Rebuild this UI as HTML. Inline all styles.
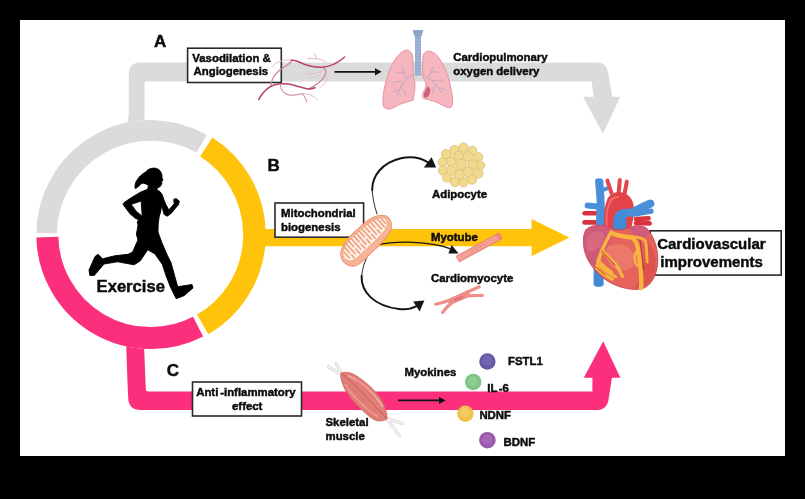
<!DOCTYPE html>
<html>
<head>
<meta charset="utf-8">
<title>Exercise and cardiovascular improvements</title>
<style>
html,body{margin:0;padding:0;background:#000;}
body{width:805px;height:499px;overflow:hidden;position:relative;}
svg{position:absolute;left:0;top:0;display:block;filter:blur(0.6px);}
text{font-family:"Liberation Sans",sans-serif;font-weight:bold;fill:#0c0c0c;stroke:#0c0c0c;stroke-width:0.45px;}
.s{font-size:11.4px;}
.m{font-size:15px;}
.l{font-size:17px;}
</style>
</head>
<body>
<svg width="805" height="499" viewBox="0 0 805 499">
<rect x="0" y="0" width="805" height="499" fill="#000"/>
<rect x="20" y="20" width="765" height="436" fill="#fff"/>

<!-- PIPES -->
<g stroke="none">
  <path d="M126.6 127 C128 122 128.8 116 128.8 110 V74.6 Q128.8 62.5 140.6 62.5 H596 C604 62.5 607.4 66.4 608.6 75 L612.3 96.8 H620.4 L603 133.4 L583 96.8 H593.8 L591.6 81.5 H146.6 Q144.6 81.5 144.6 83.5 V110 C144.6 116 144.4 122 144 127 Z" fill="#dbdbdb"/>
  <path d="M255 229 H531.6 V219 L569.4 237.5 L531.6 256.2 V246.2 H255 Z" fill="#fec30a"/>
  <path d="M126 340 L127.4 380 L128.2 398 Q128.6 410 140.4 410 H597 C604 410 608 406 608.8 398 L611.9 377.8 H620.4 L603.2 341.2 L583.8 377.8 H592.4 V391.5 H148 Q146 391.5 145.8 389.5 L143.8 340 Z" fill="#fb2f7c"/>
</g>

<!-- RING -->
<g fill="none" stroke-width="22.0">
  <circle cx="150.8" cy="234.6" r="103.5" stroke="#fff" stroke-width="22.0"/>
  <path d="M201.63 143.64 A104.2 104.2 0 0 0 46.61 233.15" stroke="#dbdbdb" stroke-width="20.6"/>
  <path d="M202.65 324.41 A103.7 103.7 0 0 0 206.21 146.95" stroke="#fec30a" stroke-width="22.6"/>
  <path d="M47.33 237.13 A103.5 103.5 0 0 0 198.11 326.65" stroke="#fb2f7c" stroke-width="22"/>
</g>

<!-- RUNNER -->
<g id="runner" fill="#000" stroke="#000" stroke-width="0.9" stroke-linejoin="round">
  <path fill-rule="evenodd" d="M153.6 168.1 C157.6 168 161 170.6 161.8 174.4 L162 177.6 L162.9 180.2 L161.7 181.6 L161.8 184 L160 186.8 L157.2 187.8 L157 190 C159.2 190.6 161.2 192.6 162.3 195 L164 200 L166 204.8 L168.9 210 L174.2 203.6 L173.7 199.4 L176.1 198.5 L179.3 201 L178.6 204.6 L177.3 206 L170.5 214 L167.1 216.2 L164.1 214.4 L161.7 205.4 L160.6 212 L159.3 216 L158.2 224 L158 232 L162 243 L167.2 255 L171 262.6 L174.7 276 L177.7 286.7 L192 284.5 L193 288 L184 295.7 L176.2 298.7 L173.2 292.7 L170.4 287 L165.8 275 L162.4 264.6 L155 254 L147.7 249.8 L140.2 261 L134.1 264.8 L117.6 261.8 L104 264 L94.3 275.4 L89.8 275.4 L89 270 L95 256.6 L98 254.3 L102.6 258.8 L114.6 255.8 L128.1 254.3 L132.6 252 L137.9 240 L136.4 234 L137.2 230 L138 225 L137.2 222 L138.8 219.6 L135.6 218.6 L130 213.8 L124 205.8 C122.8 204.6 123 203.4 124.2 202.4 L132.4 197 L140 192.4 L147.7 189.2 L148.4 185.6 C146.6 184 144.4 183 142 183.2 C140 184.6 138 187.6 135.2 188.6 C134.4 186 135.4 182 137.6 179.2 C139.6 176.4 142.4 173.6 145.6 172 C147.6 169.6 150.4 168.2 153.6 168.1 Z M131.2 204.4 L141.2 201 L142.2 216.2 L136.4 211.4 Z"/>
</g>

<!-- STRAIGHT ARROWS -->
<g id="arrows" fill="#111" stroke="#111">
  <path d="M334.5 71.8 H377" stroke-width="1.7" fill="none"/>
  <path d="M375 68.2 L381.6 71.8 L375 75.4 Z" stroke="none"/>
  <path d="M398 400.4 H441" stroke-width="1.8" fill="none"/>
  <path d="M439 396.8 L445.6 400.4 L439 404 Z" stroke="none"/>
</g>

<!-- LUNGS -->
<g id="lungs">
  <path d="M414.2 30 H421.8 L421.6 35 L421 37 V75.5 H415 V37 L414.4 35 Z" fill="#93a9cf"/>
  <path d="M412.6 30.2 H423.4 L421.6 36 H414.4 Z" fill="#8ea4cb"/>
  <g stroke="#b9c8e2" stroke-width="0.7">
    <path d="M415.2 40 H420.6 M415.2 43 H420.6 M415.2 46 H420.6 M415.2 49 H420.6 M415.2 52 H420.6 M415.2 55 H420.6 M415.2 58 H420.6 M415.2 61 H420.6 M415.2 64 H420.6 M415.2 67 H420.6 M415.2 70 H420.6 M415.2 73 H420.6"/>
  </g>
  <path d="M407 50 C410 50.5 412 53 412.6 56 C413.4 62 413 70 413.4 76 C414 80 415.4 83 415 87 C414.6 92 413.6 96 413.2 100 C409 101.5 404 102.8 400 104.2 C396.5 105.8 393.5 108.2 390 109 C387 109.4 384.4 108.2 383.2 106 C382.6 101 383 95.5 384 90 C385 84 386.8 78 389 72 C391 66.5 393.4 62 396 58 C399 54 403 50.4 407 50 Z" fill="#f5b6bf" stroke="#e895a3" stroke-width="1"/>
  <path d="M428.5 51 C432 51.5 434.5 53 436.5 55 C440 59 442.4 63 444.2 67 C447 73 449 79 450.2 85 C451.6 91 452.6 96 452.6 101 C452.6 105 451.6 107.6 449.6 108 C445 107 440.5 104 436 102 C432 100.4 427 99.4 423.4 98.4 C422.2 96.4 422.4 94.6 423 93 C424.6 90 426.2 87 426 84 C425.6 81 423.4 79 422.8 76 C422.4 70 422.4 62 423 56 C423.8 53 426 51.2 428.5 51 Z" fill="#f5b6bf" stroke="#e895a3" stroke-width="1"/>
  <path d="M427 86.5 C429.5 86.5 430.6 89 430 92 C429.4 95 427.6 97.6 425 98 C423.6 96.6 423.6 94.6 424.4 92.6 C425.4 90.4 426.6 88.6 427 86.5 Z" fill="#cf5f78"/>
  <g fill="none" stroke="#b9a3bf" stroke-width="0.8" stroke-linecap="round">
    <path d="M415.5 74 C411 76 407 78 403.5 82 C401 86 399.5 90 397.5 95"/>
    <path d="M407 78.5 C405 75 403.5 72 402.5 68 M404.5 73 C402 72 399.5 72 397 73 M403.5 82 C400 81 397 81 394 82.5 M401 87 C403.5 89 405 91.5 405.5 95 M399.5 90.5 C397 90 395 90.5 393 92"/>
    <path d="M420.5 74 C425 76 429 78 432.5 81 C436 84 439 88 441.5 93"/>
    <path d="M428 77.5 C430 74 432 71 433 67 M431 72.5 C433.5 71.5 436 71.5 438.5 72.5 M432.5 81 C436 80 439 80 442 81 M436 85 C434 87.5 433 90 433 93 M439 88.5 C441.5 88 443.5 88.5 445.5 90"/>
  </g>
</g>

<!-- CURVED ARROWS -->
<g id="carrows" fill="none" stroke="#151515" stroke-linecap="round">
  <path d="M377 214 C374 205 372.4 196 372.2 190" stroke-width="0.9"/>
  <path d="M372.2 190 C372 176 382 162.6 401 158.2 C411 156 421 157.8 428 162.4" stroke-width="2"/>
  <path d="M431.6 157.2 L436.2 167.6 L423.8 167.4 Z" fill="#151515" stroke="none"/>
  <path d="M376 245.4 C396 240.4 430 241.2 450 248.6" stroke-width="1.3"/>
  <path d="M451.6 245 L458.6 253.4 L448.4 253.6 Z" fill="#151515" stroke="none"/>
  <path d="M368.6 254 C365 260 362.4 268 361.6 276" stroke-width="0.9"/>
  <path d="M361.6 276 C361 292 374 306 399 309 C406 309.8 412 308.6 416 306.4" stroke-width="2"/>
  <path d="M413.2 301.6 L424.4 300.6 L419.6 311.4 Z" fill="#151515" stroke="none"/>
</g>

<!-- ADIPOCYTE -->
<g id="adipo" fill="#f0da8e" stroke="#dcbf78" stroke-width="0.8">
  <circle cx="460" cy="165" r="19" fill="#f6ebc4" stroke="none"/>
  <circle cx="463.5" cy="147.5" r="4.6"/><circle cx="454.5" cy="150" r="4.6"/><circle cx="472.5" cy="150.5" r="4.4"/>
  <circle cx="446" cy="154" r="4.6"/><circle cx="478.5" cy="157" r="4.4"/><circle cx="442.5" cy="162" r="4.4"/>
  <circle cx="480.5" cy="165.5" r="4.2"/><circle cx="443" cy="170.5" r="4.6"/><circle cx="478.5" cy="173.5" r="4.6"/>
  <circle cx="447" cy="177.5" r="4.6"/><circle cx="472" cy="179.5" r="4.8"/><circle cx="455" cy="182" r="4.6"/>
  <circle cx="463.5" cy="182.5" r="4.4"/>
  <circle cx="459" cy="156" r="4.8"/><circle cx="468" cy="156.5" r="4.8"/><circle cx="451" cy="161.5" r="4.8"/>
  <circle cx="473" cy="164.5" r="4.8"/><circle cx="451.5" cy="170.5" r="4.8"/><circle cx="468" cy="172" r="5"/>
  <circle cx="459.5" cy="174.5" r="4.8"/><circle cx="461" cy="164.5" r="5.2"/>
</g>

<!-- MYOTUBE -->
<g id="myotube">
  <path d="M457.4 259.2 L499.2 236.4" stroke="#e8807c" stroke-width="7.4" stroke-linecap="butt" fill="none"/>
  <path d="M457.4 259.2 L499.2 236.4" stroke="#f3a093" stroke-width="5.4" stroke-linecap="butt" fill="none"/>
  <ellipse cx="499.2" cy="236.4" rx="1.6" ry="3.7" transform="rotate(-28.6 499.2 236.4)" fill="#ee8b84" stroke="#e07471" stroke-width="0.8"/>
  <path d="M470 252 L484 244.4" stroke="#e58c84" stroke-width="0.8" fill="none"/>
</g>

<!-- CARDIOMYOCYTE -->
<g id="cardio" fill="none" stroke="#ef8e89" stroke-width="3.2" stroke-linecap="round">
  <path d="M435.6 304.2 C441 303 446 301.6 450 300 L466 292.6 C471 290.6 475 288.6 479.2 286.8"/>
  <path d="M442.6 312.4 C445 309 448 305.6 452 302.6 L468 295.8 C473 295.4 478 295.6 482.4 295.4"/>
  <path d="M450.6 301.4 L467 294.2" stroke-width="5.6"/>
  <path d="M455.6 299.8 L461.6 297.4" stroke="#e2737a" stroke-width="2.6"/>
</g>

<!-- MUSCLE -->
<g id="muscle">
  <g fill="none" stroke="#d2cbc8" stroke-width="3" stroke-linecap="round">
    <path d="M342 375 L328.4 366.6"/><path d="M342 375 L336 363"/>
    <path d="M386.6 418.4 L402.6 423.6"/><path d="M386.6 418.4 L399.4 435.6"/>
  </g>
  <g fill="none" stroke="#f6f3f1" stroke-width="1.8" stroke-linecap="round">
    <path d="M342 375 L328.4 366.6"/><path d="M342 375 L336 363"/>
    <path d="M386.6 418.4 L402.6 423.6"/><path d="M386.6 418.4 L399.4 435.6"/>
  </g>
  <path d="M341 373 C345 371.5 350 372.5 353 374 C358 376.6 362 379.6 365 382 C370 386 375 391 379 396 C382 400 384 404 385 408 C386.4 412 387.4 416 387 419 C383 421.4 378 421.4 375 420 C370 417.6 365 413 361 409 C356 404 351 399 348 394 C345 390 342.6 385 341.4 380 C340.6 377 340.4 374.6 341 373 Z" fill="#df7d76" stroke="#c96663" stroke-width="0.8"/>
  <path d="M342 374 C350 380 360 390 368 399 C375 406 382 413 386.6 418.6" fill="none" stroke="#c45c5c" stroke-width="1"/>
  <path d="M348 375.6 C356 379 364 385 371 392 C376 397 380 402 382.6 407" fill="none" stroke="#f1a79e" stroke-width="1.8"/>
  <path d="M345 384 C350 392 358 401 366 408 C370 411.6 374 414.6 378 416.6" fill="none" stroke="#f0a098" stroke-width="1.4"/>
  <path d="M346 380 C352 388 360 397 368 404" fill="none" stroke="#d67470" stroke-width="0.8"/>
  <path d="M356 380 C363 385 370 392 376 400" fill="none" stroke="#d67470" stroke-width="0.8"/>
</g>

<!-- MYOKINE DOTS -->
<g id="dots">
  <circle cx="487.4" cy="361.5" r="8.2" fill="#6659a6"/><circle cx="487" cy="360.6" r="5" fill="#7d71b8" opacity="0.55"/>
  <circle cx="473.2" cy="382" r="8.3" fill="#7fc486"/><circle cx="472.8" cy="381.2" r="5" fill="#9bd6a0" opacity="0.55"/>
  <circle cx="465.4" cy="413.8" r="8.2" fill="#efc04a"/><circle cx="465" cy="413" r="5" fill="#f6d474" opacity="0.55"/>
  <circle cx="487.4" cy="440.2" r="8.3" fill="#9a58ab"/><circle cx="487" cy="439.4" r="5" fill="#b074bf" opacity="0.55"/>
</g>


<!-- LABEL BOXES -->
<g fill="#fff" stroke="#2a2a2a" stroke-width="1.6">
  <rect x="187.6" y="48.2" width="93.7" height="34.3"/>
  <rect x="275" y="203" width="88.6" height="34.2"/>
  <rect x="192.5" y="382" width="109" height="34"/>
  <rect x="650" y="230.8" width="131.2" height="44.3"/>
</g>

<!-- VESSELS -->
<g id="vessels" fill="none" stroke-linecap="round" stroke-linejoin="round">
  <path d="M289.9 60 C286 59.4 280 60.6 275.4 63.6 C274 64.8 273.2 66 273 67.2" stroke="#e6bcc9" stroke-width="1"/>
  <path d="M306.7 73.3 C310 74.4 316 73.6 320 72 C322 71.2 323.6 70.4 324.7 69.6" stroke="#e6bcc9" stroke-width="1"/>
  <path d="M326 62.4 C324.6 60.4 320 59 315.1 58.8 C312.6 58.6 310 58.4 307.9 58.2 M313.9 53.4 C315.4 55 316 57 316.3 58.8" stroke="#e3b4c3" stroke-width="1"/>
  <path d="M301.9 93.7 C305 93.6 308 94.2 310.3 94.9 C313 96 315.6 98 317.5 99.7" stroke="#e6bcc9" stroke-width="1"/>
  <path d="M307.9 80.5 C309 78.6 310.8 77.4 312.7 76.9 C315 76.2 317.6 75.8 320 75.7" stroke="#e6bcc9" stroke-width="0.9"/>
  <path d="M327.2 76.9 C327 79 326 81 324.7 82.9 C323.4 84.8 321.8 86.4 320 87.7" stroke="#e6bcc9" stroke-width="0.9"/>
  <path d="M270.6 86.5 C271 83.6 271.8 80.6 273 78 C274.6 75.2 276.8 72.8 279 70.8 C281.6 68.6 284.6 66.6 287.5 64.8 C289.4 63.6 291 62.2 292.3 60.6" stroke="#d07f99" stroke-width="1.2"/>
  <path d="M322.3 67.2 C324.6 68.2 326 70 326 72 C325.6 74.8 324 77.2 322.3 79.3 C320.2 81.6 317.6 83.6 315.1 85.3 C313.2 86.6 311.2 87.8 309.1 88.9" stroke="#d07f99" stroke-width="1.2"/>
  <path d="M280.3 85.3 C280.6 87.6 281.4 89.6 282.7 91.3 C284.2 93 286.4 94.2 288.7 94.9 C291 95.4 293.6 95.2 295.9 94.9 C298 94.6 300 93.8 301.9 93.7 C303.6 94.8 304.8 96.6 305.5 98.5 C306 99.6 306.4 100.8 306.7 102.1" stroke="#d68ea5" stroke-width="1.1"/>
  <path d="M344.6 57 C342.6 58.8 340.4 60.4 338 61.8 C335.8 63.2 333.4 64.4 330.8 65.4 C328 66.4 325.2 67 322.3 67.2 C319 67.4 315.8 67.2 312.7 66.6 C309.8 66 307 65.2 304.3 64.2 C301.8 63.2 299.6 62 297.1 61.2 C295.2 60.6 293.2 60.2 291.1 60" stroke="#bb4467" stroke-width="1.5"/>
  <path d="M258.6 99.7 C260 97.2 261.6 94.8 263.4 92.5 C265.4 90.2 267.8 88 270.6 86.5 C273.2 85.2 276 84.4 279 84.1 C282.2 83.6 285.6 83.6 288.7 84.1 C292 84.6 295.2 85.6 298.3 86.5 C301.4 87.4 304.8 88.6 307.9 88.9 C310.4 89 312.8 88.6 315.1 87.7" stroke="#bb4467" stroke-width="1.5"/>
</g>

<!-- MITOCHONDRION -->
<g id="mito" transform="translate(366.3 240) rotate(-42) scale(1 0.95)">
  <path d="M-31.5 0.5 C-31.5 -8 -22 -14.6 -4 -14.6 L6 -14.6 C22 -14.6 31.5 -9 31.5 -1 C31.5 5 27 9.5 19 11.5 C10 13.6 2 13.4 -6 13.6 C-12 13.8 -18 14.6 -23 13.4 C-28.4 12 -31.5 7 -31.5 0.5 Z" fill="#f6b596" stroke="#ea9770" stroke-width="1"/>
  <path d="M-28.5 -1 C-28.5 -7.5 -20 -12 -4 -12 L6 -12 C20 -12 28.5 -8 28.5 -2.5 C28.5 2 24 5 18 6 C8 7.6 -8 7 -19 7.6 C-25 7.8 -28.5 4 -28.5 -1 Z" fill="#fdeee6" stroke="#ee9d7a" stroke-width="0.9"/>
  <g fill="none" stroke="#ee9a76" stroke-width="1.5" stroke-linecap="round">
    <path d="M-24.6 -6 V2 M-21 -9 V-2 M-21 1.4 V5.6 M-17.4 -10.6 V3 M-13.8 -11.2 V-3.6 M-13.8 -0.4 V5.6 M-10.2 -11.4 V3 M-6.6 -11.4 V-3.6 M-6.6 -0.4 V5.4 M-3 -11.4 V3 M0.6 -11.4 V-3.6 M0.6 -0.4 V5.2 M4.2 -11.4 V3 M7.8 -11.4 V-3.6 M7.8 -0.4 V5 M11.4 -11.2 V2.6 M15 -10.8 V-3.6 M15 -0.4 V4.4 M18.6 -10 V2 M22.2 -8.6 V2.6 M25.4 -6 V0.6"/>
  </g>
</g>

<!-- HEART -->
<g id="heart" stroke-linejoin="round" stroke-linecap="round">
  <!-- inferior vena cava -->
  <path d="M593.6 262 H603.6 V284.4 C603.6 287.6 593.6 287.6 593.6 284.4 Z" fill="#3f8bd6"/>
  <!-- pulmonary veins (red, left and right) -->
  <path d="M584.6 213.2 H596" stroke="#d9343d" stroke-width="4.6" fill="none"/>
  <path d="M584.6 222.4 H596" stroke="#d9343d" stroke-width="4.8" fill="none"/>
  <path d="M636 219 L648.6 218.4 M636 223 L649.6 223.4" stroke="#d9343d" stroke-width="4.6" fill="none"/>
  <!-- superior vena cava -->
  <path d="M587.6 205.6 L597 206.4" stroke="#4a8fd8" stroke-width="6" fill="none"/>
  <path d="M595 180.6 C595 177.4 603 177.4 603.2 180.6 L604.4 196 L605.6 226 H596 L596.6 200 Z" fill="#4a8fd8"/>
  <path d="M603 190 L606.6 188.6" stroke="#4a8fd8" stroke-width="4" fill="none"/>
  <!-- aorta -->
  <path d="M607.4 180.6 L611.4 193 M619.8 180 L618.6 193 M626.8 181.6 L624.4 195" stroke="#e2474d" stroke-width="4" fill="none"/>
  <path d="M604.6 232 C603.4 220 604 206 607.4 199 C610.6 192.6 618 190.6 624 193 C630 195.4 633.6 201 634 208 C634.4 216 632 226 630 232 Z" fill="#e3424a"/>
  <path d="M607 230 C606 220 607 208 610 202 C612 198.6 615 197 618 197" stroke="#f06a66" stroke-width="2" fill="none"/>
  <!-- pulmonary artery -->
  <path d="M618 230 C616.6 222 617.4 215.6 621.6 213.6 C625 212 628 213.6 632 212.2 C638 209.8 644 205.8 650.4 203.6" stroke="#4a8fd8" stroke-width="8" fill="none"/>
  <path d="M634 214 L651 211.2" stroke="#4a8fd8" stroke-width="5.4" fill="none"/>
  <path d="M613.6 232 C613 222 614 214 618 211 C622 209 626 212 626 216 L626.6 232 Z" fill="#3f8bd6"/>
  <!-- body -->
  <path d="M586 229.6 C590 226 596 224.6 602 225.4 C608 226 612 228.4 616 229.6 C622 231 628 227.4 634 226 C641 224.6 647 227.6 650.6 233.4 C655 240 657.6 249 657.8 258 C658 268 655.6 277 650 283.6 C646 288.4 640 289.8 634 289.4 C624 288.8 614 285.6 606 280 C600 276 596 271.6 592.6 267 C587 260 583.4 251 583.4 242 C583.4 237 584 232.6 586 229.6 Z" fill="#e5635b" stroke="#c33b4b" stroke-width="0.8"/>
  <!-- right atrium (viewer left) -->
  <path d="M586 229.6 C590 226 596 224.6 602 225.4 C607 226 610.6 228.4 612 231 C613 236 611 242 607 247 C603 252 598 258 595.6 264 C594.8 266 594.6 267.6 594.6 269 C588 262 583.4 252 583.4 242 C583.4 237 584 232.6 586 229.6 Z" fill="#cf5a79"/>
  <path d="M588 236 C592 232 598 231 603 232.6 C606 236 603 242 599 247 C596 250 592 252 588.6 251 C586 246 586 240 588 236 Z" fill="#d96a84" opacity="0.9"/>
  <!-- left atrial appendage (viewer right) -->
  <path d="M630 228 C635 224.6 642 224.4 647 228 C649.6 230.6 650 233.4 648 235.6 C644 238 638 237 634 235 C631 233.4 629.6 230.6 630 228 Z" fill="#cf5a79"/>
  <!-- darker right side -->
  <path d="M646 240 C651 244 655 252 655.6 260 C656 270 653 279 648 284 C644 287.6 639 288 635 287.6 C640 280 643 270 644 260 C644.6 252 645 246 646 240 Z" fill="#dd4f4c" opacity="0.85"/>
  <!-- lighter ventricle patch -->
  <path d="M608 247 C614 243 622 243.6 628 247 C634 251 636 258 634 264 C631 270 624 272 618 270 C611 267.6 606 260 606 254 C606 251 606.6 248.6 608 247 Z" fill="#ec7a6c" opacity="0.9"/>
  <!-- coronary fat / vessels -->
  <g fill="none" stroke="#f7b53f">
    <path d="M611 232.6 C617 236.4 626 236.6 632 237.6 C636 240 637.6 245 638.4 251 C639.2 258 640.4 266 641 274 C641.4 279 641.4 284 641 288" stroke-width="4.4"/>
    <path d="M632 237 C637 236.4 642 238 645.4 241 C647 247 646.6 254 647.2 262" stroke-width="2.8"/>
    <path d="M636 252 C634 256 634.6 262 637 266" stroke-width="2.4"/>
    <path d="M611 232.6 C607.6 238 604.6 244 602.2 250 C599.6 256 597.6 262 597 268 C600 272 606 276 612 279" stroke-width="3.6"/>
    <path d="M602 250 C606 255 611 259 615.4 264 C618.4 268 620.4 272 622.4 276.4" stroke-width="3.2"/>
    <path d="M598 260 C602 265 607 269 612 272.6" stroke-width="3"/>
    <path d="M600 266 C604 270 610 274 616 277" stroke-width="2.6"/>
  </g>
  <g fill="none" stroke="#a5342f" stroke-width="0.9">
    <path d="M640 240 C641 246 642 252 642.4 258 C642.8 262 643 266 643.4 270"/>
    <path d="M601.6 251 C606 256 611 260 615 265"/>
    <path d="M596 267 C599 270 602 272.6 605 274.6"/>
  </g>
</g>


<!-- TEXT -->
<g>
  <text class="l" x="153.9" y="46.6">A</text>
  <text class="l" x="267.4" y="170.6">B</text>
  <text class="l" x="166.8" y="375.8">C</text>
  <text class="s" x="192.3" y="61.8">Vasodilation &amp;</text>
  <text class="s" x="193.5" y="75.2">Angiogenesis</text>
  <text class="s" x="453.3" y="60.6">Cardiopulmonary</text>
  <text class="s" x="453.3" y="74.9">oxygen delivery</text>
  <text class="s" x="281" y="217">Mitochondrial</text>
  <text class="s" x="281" y="231">biogenesis</text>
  <text class="s" x="432" y="198">Adipocyte</text>
  <text class="s" x="431" y="241">Myotube</text>
  <text class="s" x="431" y="281.5">Cardiomyocyte</text>
  <text style="font-size:16.6px" x="96.6" y="292.3">Exercise</text>
  <text class="s" x="196.2" y="396" style="word-spacing:-1.3px">Anti -inflammatory</text>
  <text class="s" x="232" y="409.5">effect</text>
  <text class="s" x="325.5" y="426">Skeletal</text>
  <text class="s" x="325.5" y="439.5">muscle</text>
  <text class="s" x="404.5" y="376">Myokines</text>
  <text class="s" x="508" y="365">FSTL1</text>
  <text class="s" x="487.3" y="392" style="word-spacing:-1.6px">IL -6</text>
  <text class="s" x="479.4" y="419">NDNF</text>
  <text class="s" x="503.6" y="446">BDNF</text>
  <text class="m" x="657.2" y="249.1">Cardiovascular</text>
  <text class="m" x="660.3" y="267">improvements</text>
</g>
</svg>
</body>
</html>
